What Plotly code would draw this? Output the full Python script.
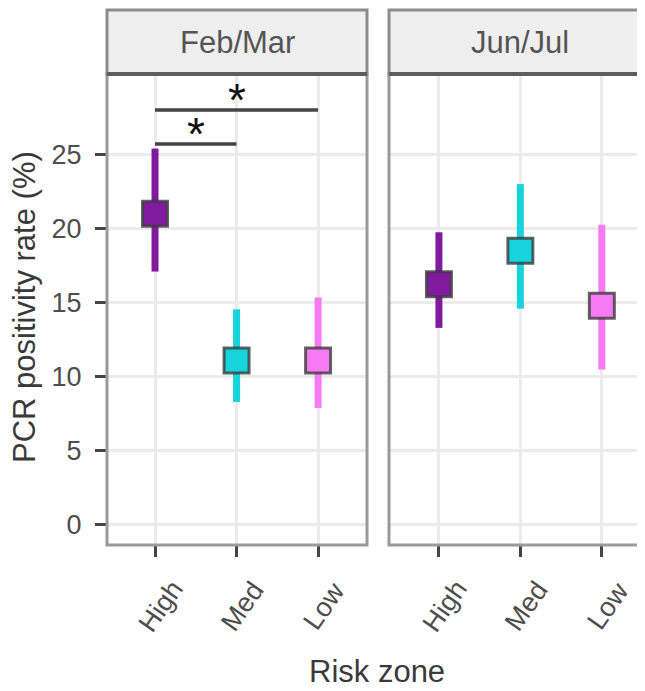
import plotly.graph_objects as go

# ---- data ----
zones = ["High", "Med", "Low"]
periods = ["Feb/Mar", "Jun/Jul"]
feb_rate = [21.0, 11.1, 11.1]
feb_lo = [17.1, 8.3, 7.9]
feb_hi = [25.4, 14.55, 15.35]
jun_rate = [16.25, 18.5, 14.8]
jun_lo = [13.3, 14.6, 10.5]
jun_hi = [19.75, 23.0, 20.25]
zone_colors = ["#801A9F", "#17D3DB", "#F57AF4"]
y_ticks = [0, 5, 10, 15, 20, 25]
# significance comparisons in Feb/Mar: (from, to, bracket height, label)
sig_pairs = [("High", "Med", 25.7, "*"), ("High", "Low", 28.0, "*")]

FONT = "Liberation Sans"
OFF = 8  # page body margin
W, H = 645 - OFF, 691 - OFF
ML, MR, MT, MB = 107 - OFF, 0, 74 - OFF, 146
PW = W - ML - MR
PH = H - MT - MB

def px_x(p):
    return (p - OFF - ML) / PW

def px_y(p):
    return (H - MB - (p - OFF)) / PH

fig = go.Figure()

panel_data = [(feb_rate, feb_lo, feb_hi, "x", "y"), (jun_rate, jun_lo, jun_hi, "x2", "y2")]
for rate, lo, hi, xa, ya in panel_data:
    for i, z in enumerate(zones):
        fig.add_trace(go.Scatter(
            x=[z], y=[rate[i]], xaxis=xa, yaxis=ya, mode="markers",
            marker=dict(symbol="square", size=25, color=zone_colors[i],
                        line=dict(color="rgba(60,60,60,0.8)", width=3)),
            error_y=dict(type="data", symmetric=False,
                         array=[hi[i] - rate[i]], arrayminus=[rate[i] - lo[i]],
                         color=zone_colors[i], thickness=7, width=0),
            showlegend=False, hoverinfo="skip"))

axis_common = dict(
    type="category", categoryorder="array", categoryarray=zones,
    showgrid=True, gridcolor="#EBEBEB", gridwidth=2.5,
    ticks="outside", ticklen=11, tickwidth=3, tickcolor="#444",
    showticklabels=False, showline=False, zeroline=False, fixedrange=True)
fig.update_layout(
    xaxis=dict(axis_common, domain=[0, px_x(367)], range=[-0.589, 2.6], anchor="y"),
    xaxis2=dict(axis_common, domain=[px_x(389), 1], range=[-0.613, 2.53], anchor="y2"),
)
yaxis_common = dict(range=[-1.35, 30.43], tickvals=y_ticks, showgrid=True,
                    gridcolor="#EBEBEB", gridwidth=2.5, zeroline=False,
                    ticks="outside", ticklen=11, tickwidth=3, tickcolor="#444",
                    showline=False, fixedrange=True)
fig.update_layout(
    yaxis=dict(yaxis_common, anchor="x", ticktext=[str(v) for v in y_ticks],
               tickfont=dict(family=FONT, size=27, color="#4D4D4D"),
               ticklabelstandoff=8),
    yaxis2=dict(yaxis_common, anchor="x2", showticklabels=False, ticks=""),
)

shapes = []
annotations = []
strip_top = px_y(10)
for k, (xa, ya) in enumerate([("x", "y"), ("x2", "y2")]):
    xr = 1 if k == 0 else 1.05
    # panel border
    shapes.append(dict(type="rect", xref=f"{xa} domain", yref=f"{ya} domain",
                       x0=0, x1=xr, y0=0, y1=1, line=dict(color="#9A9A9A", width=3),
                       layer="above"))
    # strip
    shapes.append(dict(type="rect", xref=f"{xa} domain", yref=f"{ya} domain",
                       x0=0, x1=xr, y0=1, y1=strip_top, fillcolor="#EFEFEF",
                       line=dict(color="#8C8C8C", width=3), layer="above"))
    shapes.append(dict(type="line", xref=f"{xa} domain", yref=f"{ya} domain",
                       x0=0, x1=xr, y0=1, y1=1, line=dict(color="#5E5E5E", width=4),
                       layer="above"))
    # x tick labels
    for z in zones:
        annotations.append(dict(text=z, x=z, xref=xa, y=px_y(606), yref="paper",
                                xshift=6, showarrow=False, textangle=-55,
                                xanchor="center", yanchor="middle",
                                font=dict(family=FONT, size=27, color="#4D4D4D")))

# strip labels
annotations.append(dict(text=periods[0], x=0.5, xref="x domain", y=px_y(42), yref="paper",
                        showarrow=False, xanchor="center", yanchor="middle",
                        font=dict(family=FONT, size=31, color="#555555")))
annotations.append(dict(text=periods[1], x=(520 - 389) / (645 - 389), xref="x2 domain",
                        y=px_y(42), yref="paper", showarrow=False, xanchor="center",
                        yanchor="middle", font=dict(family=FONT, size=31, color="#555555")))

# significance brackets
for a, b, h, lab in sig_pairs:
    shapes.append(dict(type="line", xref="x", yref="y", x0=a, x1=b, y0=h, y1=h,
                       line=dict(color="#444444", width=3.5)))
    mid = (zones.index(a) + zones.index(b)) / 2
    annotations.append(dict(text=lab, x=mid, xref="x", y=h, yref="y", showarrow=False,
                            xanchor="center", yanchor="bottom", yshift=-18,
                            font=dict(family=FONT, size=46, color="#111111")))

# axis titles
annotations.append(dict(text="Risk zone", x=px_x(377), xref="paper", y=px_y(671),
                        yref="paper", showarrow=False, xanchor="center", yanchor="middle",
                        font=dict(family=FONT, size=31, color="#3A3A3A")))
annotations.append(dict(text="PCR positivity rate (%)", x=px_x(24), xref="paper",
                        y=px_y(307), yref="paper", showarrow=False, textangle=-90,
                        xanchor="center", yanchor="middle",
                        font=dict(family=FONT, size=31, color="#3A3A3A")))

fig.update_layout(width=W, height=H, margin=dict(l=ML, r=MR, t=MT, b=MB),
                  paper_bgcolor="white", plot_bgcolor="white",
                  shapes=shapes, annotations=annotations, showlegend=False)

fig.write_html("out.html")
